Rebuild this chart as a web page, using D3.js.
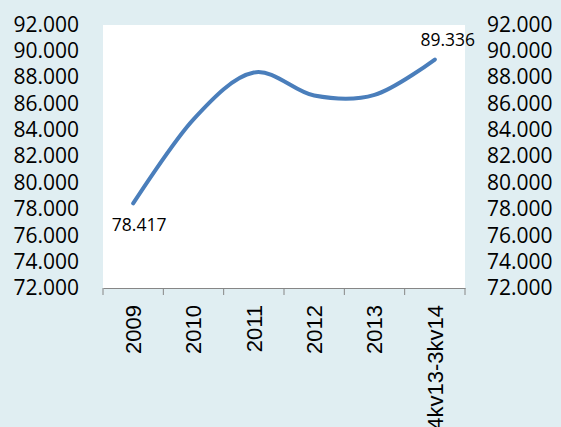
<!DOCTYPE html>
<html>
<head>
<meta charset="utf-8">
<script src="https://cdn.jsdelivr.net/npm/d3@7"></script>
<style>
    body { margin: 0; background: #e0eef2; }
    svg { display: block; font-family: "Open Sans", sans-serif; }
</style>
</head>
<body>
<svg></svg>
<script>
// chart data
const categories = ['2009', '2010', '2011', '2012', '2013', '4kv13-3kv14'];
const values = [78.417, 84.8, 88.35, 86.6, 86.65, 89.336];
const yTicks = [72, 74, 76, 78, 80, 82, 84, 86, 88, 90, 92];
const labelled = [0, 5];

(() => {
    const width = 561, height = 427;
    const plot = { left: 103, right: 465, top: 25, bottom: 288 };

    const svg = d3.select('svg')
        .attr('width', width)
        .attr('height', height);

    svg.append('rect')
        .attr('width', width).attr('height', height)
        .attr('fill', '#e0eef2');

    svg.append('rect')
        .attr('x', plot.left).attr('y', plot.top)
        .attr('width', plot.right - plot.left)
        .attr('height', plot.bottom - plot.top)
        .attr('fill', '#ffffff');

    const x = d3.scaleBand()
        .domain(categories)
        .range([plot.left, plot.right])
        .padding(0);

    const y = d3.scaleLinear()
        .domain([72, 92])
        .range([plot.bottom, 24.4]);

    const fmt = d3.format('.3f');

    // left + right value axes (labels only)
    const yLeft = svg.append('g')
        .attr('transform', `translate(${plot.left}, 0)`)
        .call(d3.axisLeft(y).tickValues(yTicks).tickFormat(fmt).tickSize(0).tickPadding(24));
    const yRight = svg.append('g')
        .attr('transform', `translate(${plot.right}, 0)`)
        .call(d3.axisRight(y).tickValues(yTicks).tickFormat(fmt).tickSize(0).tickPadding(22));
    [yLeft, yRight].forEach(a => {
        a.select('.domain').remove();
        a.selectAll('text')
            .attr('font-family', '"Open Sans", sans-serif')
            .attr('font-size', 21)
            .attr('fill', '#000');
    });

    // category axis
    const xAxis = svg.append('g')
        .attr('transform', `translate(0, ${plot.bottom})`)
        .call(d3.axisBottom(x).tickSize(0).tickPadding(0));
    xAxis.select('.domain').attr('stroke', '#868686');
    xAxis.selectAll('text')
        .attr('font-family', '"Liberation Sans", sans-serif')
        .attr('font-size', 22)
        .attr('fill', '#000')
        .attr('text-anchor', 'end')
        .attr('transform', 'rotate(-90)')
        .attr('x', -17)
        .attr('y', 0)
        .attr('dy', '0.35em');

    const edges = categories.map(c => x(c)).concat([plot.right]);
    xAxis.selectAll('.edge')
        .data(edges)
        .enter().append('line')
        .attr('class', 'edge')
        .attr('x1', d => d).attr('x2', d => d)
        .attr('y1', 0).attr('y2', 7)
        .attr('stroke', '#868686');

    // the series
    const line = d3.line()
        .x((d, i) => x(categories[i]) + x.bandwidth() / 2)
        .y(d => y(d))
        .curve(d3.curveCardinal.tension(0));

    svg.append('path')
        .datum(values)
        .attr('d', line)
        .attr('fill', 'none')
        .attr('stroke', '#4a7ebb')
        .attr('stroke-width', 4)
        .attr('stroke-linecap', 'round');

    // data labels
    const offsets = { 0: [6, 28], 5: [13, -14] };
    svg.selectAll('.dlabel')
        .data(labelled)
        .enter().append('text')
        .attr('class', 'dlabel')
        .attr('x', i => x(categories[i]) + x.bandwidth() / 2 + offsets[i][0])
        .attr('y', i => y(values[i]) + offsets[i][1])
        .attr('text-anchor', 'middle')
        .attr('font-size', 17.5)
        .attr('fill', '#000')
        .text(i => fmt(values[i]));
})()
</script>
</body>
</html>
